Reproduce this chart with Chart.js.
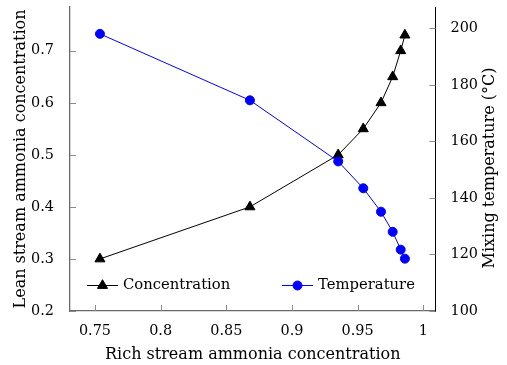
<!DOCTYPE html>
<html><head><meta charset="utf-8">
<script src="https://cdn.jsdelivr.net/npm/chart.js@4.4.0/dist/chart.umd.min.js"></script>
<style>html,body{margin:0;padding:0;background:#fff}#wrap{width:507px;height:365px}</style>
</head><body><div id="wrap"><canvas id="c" width="507" height="365"></canvas></div>
<script>
const richConcentration = [0.7538, 0.868, 0.9352, 0.9543, 0.9678, 0.9767, 0.9828, 0.986];
const leanConcentration = [0.3, 0.4, 0.5, 0.55, 0.6, 0.65, 0.7, 0.73];
const mixingTemperature = [198, 174.5, 152.9, 143.4, 135.1, 128, 121.7, 118.5];
const xTicks = [0.75, 0.8, 0.85, 0.9, 0.95, 1];
const leftTicks = [0.2, 0.3, 0.4, 0.5, 0.6, 0.7];
const rightTicks = [100, 120, 140, 160, 180, 200];
const seriesNames = ['Concentration', 'Temperature'];
const axisTitles = {
  x: 'Rich stream ammonia concentration',
  left: 'Lean stream ammonia concentration',
  right: 'Mixing temperature (°C)'
};

const FONT = '"DejaVu Serif", "Liberation Serif", serif';
// fit a font size so that a sample string reaches the width seen in the reference
function fitSize(text, width) {
  const c = document.createElement('canvas').getContext('2d');
  c.font = '20px ' + FONT;
  return Math.round(20 * width / c.measureText(text).width * 10) / 10;
}
const tickSize = fitSize('0.85', 32);
const titleSize = fitSize(axisTitles.x, 295);
const legendSize = fitSize(seriesNames[0], 107);
const tickFont = {family: FONT, size: tickSize};
const titleFont = {family: FONT, size: titleSize};

const fixed = (arr) => (s) => { s.ticks = arr.map(v => ({value: v})); };

const extras = {
  id: 'extras',
  afterDraw(chart) {
    const ctx = chart.ctx, a = chart.chartArea;
    const sx = chart.scales.x, sl = chart.scales.yL, sr = chart.scales.yR;
    ctx.save();
    ctx.strokeStyle = '#8a8a8a'; ctx.lineWidth = 1;
    ctx.beginPath();
    xTicks.forEach(v => { const p = Math.round(sx.getPixelForValue(v)) + 0.5; ctx.moveTo(p, a.bottom); ctx.lineTo(p, a.bottom - 6); });
    leftTicks.forEach(v => { const p = Math.round(sl.getPixelForValue(v)) + 0.5; ctx.moveTo(a.left, p); ctx.lineTo(a.left + 6, p); });
    rightTicks.forEach(v => { const p = Math.round(sr.getPixelForValue(v)) + 0.5; ctx.moveTo(a.right, p); ctx.lineTo(a.right - 6, p); });
    ctx.stroke();
    // right axis title, reading bottom to top
    ctx.fillStyle = '#000';
    ctx.font = titleSize + 'px ' + FONT;
    ctx.textAlign = 'center'; ctx.textBaseline = 'middle';
    ctx.translate(490, 168);
    ctx.rotate(-Math.PI / 2);
    ctx.fillText(axisTitles.right, 0, 0);
    ctx.restore();
  }
};

const innerLegend = {
  id: 'innerLegend',
  afterDatasetsDraw(chart) {
    const ctx = chart.ctx;
    const y = 285.5;
    const starts = [87, 282];
    ctx.save();
    chart.data.datasets.forEach((ds, i) => {
      const x0 = starts[i];
      ctx.strokeStyle = ds.borderColor; ctx.lineWidth = 1;
      ctx.beginPath(); ctx.moveTo(x0, y); ctx.lineTo(x0 + 31, y); ctx.stroke();
      ctx.fillStyle = ds.pointBackgroundColor; ctx.strokeStyle = ds.pointBorderColor;
      Chart.helpers.drawPoint(ctx, {pointStyle: ds.pointStyle, radius: ds.pointRadius, borderWidth: 1}, x0 + 15.5, y);
      ctx.fillStyle = '#000';
      ctx.font = legendSize + 'px ' + FONT;
      ctx.textAlign = 'left'; ctx.textBaseline = 'middle';
      ctx.fillText(seriesNames[i], x0 + 36, y);
    });
    ctx.restore();
  }
};

new Chart(document.getElementById('c'), {
  type: 'line',
  data: {
    datasets: [
      {
        label: seriesNames[0],
        data: richConcentration.map((x, i) => ({x: x, y: leanConcentration[i]})),
        yAxisID: 'yL',
        borderColor: '#000', backgroundColor: '#000',
        pointBackgroundColor: '#000', pointBorderColor: '#000',
        borderWidth: 1, pointStyle: 'triangle', pointRadius: 5.8, pointBorderWidth: 1,
        tension: 0, order: 1, clip: false
      },
      {
        label: seriesNames[1],
        data: richConcentration.map((x, i) => ({x: x, y: mixingTemperature[i]})),
        yAxisID: 'yR',
        borderColor: '#0000ff', backgroundColor: '#0000ff',
        pointBackgroundColor: '#0000ff', pointBorderColor: '#0000ff',
        borderWidth: 1, pointStyle: 'circle', pointRadius: 4.5, pointBorderWidth: 1,
        tension: 0, order: 0, clip: false
      }
    ]
  },
  options: {
    responsive: false, animation: false, devicePixelRatio: 1,
    layout: {padding: {top: 7, left: 0, right: 0, bottom: 0}},
    plugins: {legend: {display: false}, tooltip: {enabled: false}},
    scales: {
      x: {
        type: 'linear', position: 'bottom', min: 0.731, max: 1.0093,
        afterBuildTicks: fixed(xTicks),
        grid: {display: false},
        border: {display: true, color: '#6a6a6a', width: 1.3},
        ticks: {font: tickFont, color: '#000', padding: 4, maxRotation: 0, callback: v => String(v)},
        title: {display: true, text: axisTitles.x, font: titleFont, color: '#000', padding: {top: 4, bottom: 1}},
        afterFit: s => { s.height = 54; s.paddingLeft = 0; s.paddingRight = 0; }
      },
      yL: {
        type: 'linear', position: 'left', min: 0.2, max: 0.784,
        afterBuildTicks: fixed(leftTicks),
        grid: {display: false},
        border: {display: true, color: '#6a6a6a', width: 1.3},
        ticks: {font: tickFont, color: '#000', padding: 8, callback: v => String(v)},
        title: {display: true, text: axisTitles.left, font: titleFont, color: '#000', padding: {top: 11, bottom: 0}},
        afterFit: s => { s.width = 70; s.paddingTop = 0; s.paddingBottom = 0; }
      },
      yR: {
        type: 'linear', position: 'right', min: 100, max: 207.5,
        afterBuildTicks: fixed(rightTicks),
        grid: {display: false},
        border: {display: true, color: '#000', width: 1},
        ticks: {font: tickFont, color: '#000', padding: 7, callback: v => String(v)},
        afterFit: s => { s.width = 71.5; s.paddingTop = 0; s.paddingBottom = 0; }
      }
    }
  },
  plugins: [extras, innerLegend]
});
</script>
</body></html>
